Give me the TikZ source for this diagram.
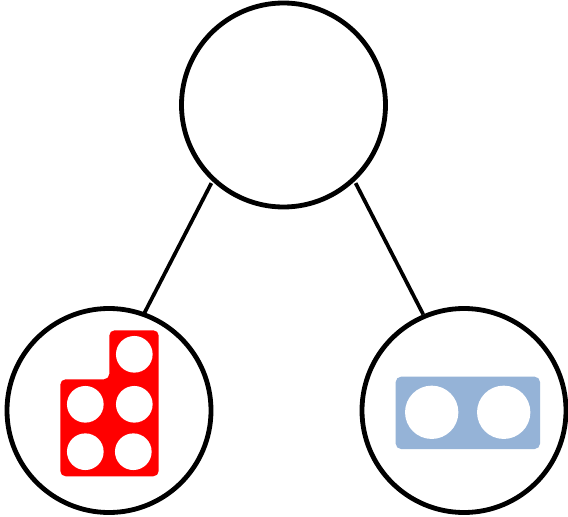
\documentclass[tikz,border=0pt]{standalone}
\definecolor{holeblue}{HTML}{95B3D7}
\tikzset{
  ring/.style={circle,draw=black,line width=3.6pt,fill=white,minimum size=153pt,inner sep=0pt},
  hole/.style={circle,fill=white,inner sep=0pt},
  smallhole/.style={hole,minimum size=27.5pt},
  bighole/.style={hole,minimum size=40pt},
  link/.style={line width=2.8pt,shorten <=1.5pt}
}
\begin{document}
\begin{tikzpicture}[x=0.75pt,y=-0.75pt]
\useasboundingbox (0,0) rectangle (568,517);
% circles
\node[ring] (top) at (283.5,105) {};
\node[ring] (left) at (109,410.5) {};
\node[ring] (right) at (464,410.5) {};

% links
\draw[link,shorten >=-3pt] (top.227.7) -- (left.70);
\draw[link] (top.-47.5) -- (right.113.6);

% red plate
\fill[red,rounded corners=4pt] (60.3,379.3) -- (109.3,379.3) -- (109.3,330.3) -- (158.7,330.3)
  -- (158.7,476.3) -- (60.3,476.3) -- cycle;
\node[smallhole] (r1) at (134.3,354.3) {};
\node[smallhole] (r2) at (85.3,404.3) {};
\node[smallhole] (r3) at (134.3,404.3) {};
\node[smallhole] (r4) at (85.3,451.7) {};
\node[smallhole] (r5) at (133.3,451.7) {};

% blue plate
\fill[holeblue,rounded corners=4pt] (395.7,376.7) rectangle (540,449);
\node[bighole] (b1) at (431.7,412.3) {};
\node[bighole] (b2) at (503.7,412.3) {};
\end{tikzpicture}
\end{document}
